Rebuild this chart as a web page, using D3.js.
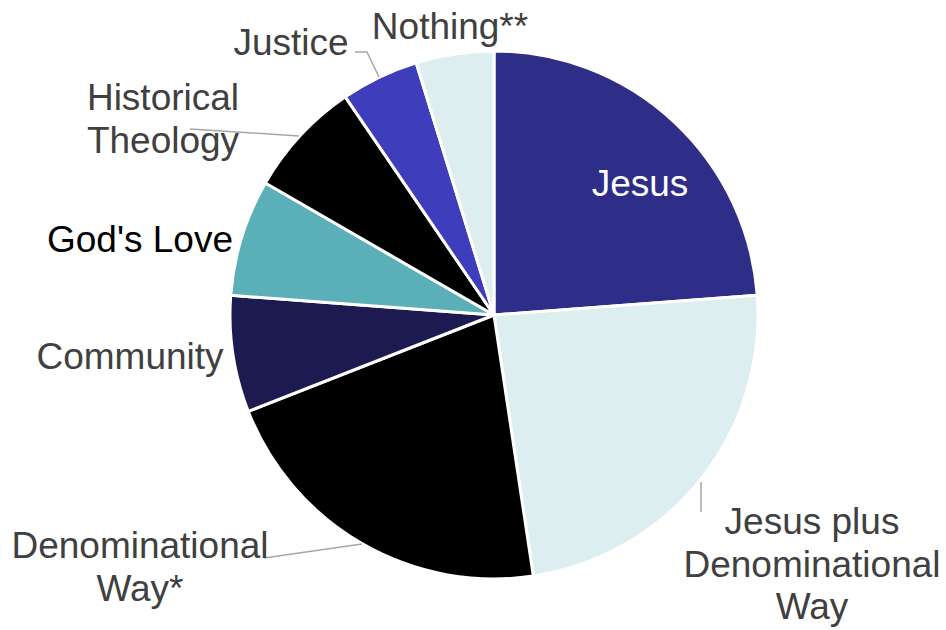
<!DOCTYPE html>
<html>
<head>
<meta charset="utf-8">
<script src="https://cdn.jsdelivr.net/npm/d3@7"></script>
<style>
  html, body { margin: 0; padding: 0; background: #fff; }
  svg { display: block; }
  text { font-family: "Liberation Sans", Arial, sans-serif; }
</style>
</head>
<body>
<svg id="chart" width="946" height="630"></svg>
<script>
// Responses, in clockwise order from twelve o'clock
const categories = ["Jesus", "Jesus plus Denominational Way", "Denominational Way*", "Community", "God's Love", "Historical Theology", "Justice", "Nothing**"];
const counts = [10, 10, 9, 3, 3, 3, 2, 2];
const sliceColors = ["#2E2D87", "#DCEEF0", "#000000", "#1C1A50", "#5AAFB9", "#000000", "#3E3DBB", "#DCEEF0"];

// Label text lines, anchor (center x, first baseline) and optional leader line
const labelLines = [["Jesus"], ["Jesus plus", "Denominational", "Way"], ["Denominational", "Way*"], ["Community"], ["God's Love"], ["Historical", "Theology"], ["Justice"], ["Nothing**"]];
const labelAnchors = [[640, 196], [812, 534], [140, 558], [130, 369], [140, 252], [163, 110], [291, 55], [450, 39]];
const labelColors = ["#FFFFFF", "#404040", "#404040", "#404040", "#000000", "#404040", "#404040", "#404040"];
const leaders = [
  null,
  [[701, 482], [701, 512]],
  [[264, 558], [362, 544]],
  null,
  null,
  [[190, 129], [299, 136]],
  [[355, 52], [367, 52], [379, 77]],
  null
];

const svg = d3.select("#chart");
const cx = 494, cy = 315, radius = 264;

const data = categories.map((c, i) => ({ name: c, value: counts[i], color: sliceColors[i], i }));

const pie = d3.pie().value(d => d.value).sort(null).startAngle(0).endAngle(2 * Math.PI);
const arc = d3.arc().innerRadius(0).outerRadius(radius);

const g = svg.append("g").attr("transform", `translate(${cx},${cy})`);
g.selectAll("path.slice")
  .data(pie(data))
  .join("path")
  .attr("class", "slice")
  .attr("d", arc)
  .attr("fill", d => d.data.color)
  .attr("stroke", "#FFFFFF")
  .attr("stroke-width", 3)
  .attr("stroke-linejoin", "round");

// Leader lines
const line = d3.line();
svg.selectAll("path.leader")
  .data(leaders.filter(l => l))
  .join("path")
  .attr("class", "leader")
  .attr("d", d => line(d))
  .attr("fill", "none")
  .attr("stroke", "#A6A6A6")
  .attr("stroke-width", 1.5);

// Labels
const lineHeight = 42.5;
data.forEach((d, i) => {
  const t = svg.append("text")
    .attr("text-anchor", "middle")
    .attr("font-size", 37)
    .attr("fill", labelColors[i]);
  labelLines[i].forEach((s, k) => {
    t.append("tspan")
      .attr("x", labelAnchors[i][0])
      .attr("y", labelAnchors[i][1] + k * lineHeight)
      .text(s);
  });
});
</script>
</body>
</html>
